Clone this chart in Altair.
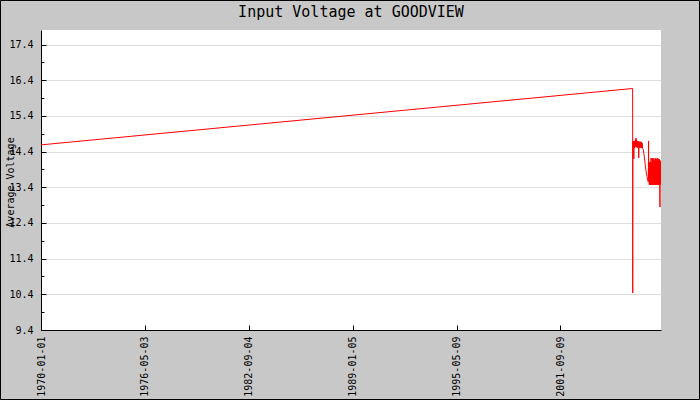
import altair as alt
import pandas as pd

# time in millions of seconds since 1970-01-01 (Unix epoch), average voltage
t_msec = [
    0.0, 1138.9, 1139.1, 1139.3,
    1139.6, 1140.2, 1140.8, 1141.2, 1141.6, 1142.2, 1142.8, 1143.4, 1144.0, 1144.6,
    1145.2, 1145.8, 1146.4, 1147.0, 1147.6, 1148.2, 1148.8, 1149.4, 1150.0, 1150.6,
    1151.2, 1151.8, 1152.4, 1153.0, 1153.6, 1154.2, 1154.8, 1155.4, 1156.0, 1156.6,
    1157.2, 1157.8,
    1159.5, 1161.5, 1163.0, 1164.8, 1166.5, 1168.0, 1169.0,
    1169.6, 1170.0,
    1170.5, 1171.0, 1171.5, 1172.0, 1172.5, 1173.0, 1173.5, 1174.0, 1174.5, 1175.0,
    1175.5, 1176.0, 1176.5, 1177.0, 1177.5, 1178.0, 1178.5, 1179.0, 1179.5, 1180.0,
    1180.5, 1181.0, 1181.5, 1182.0, 1182.5, 1183.0, 1183.5, 1184.0, 1184.5, 1185.0,
    1185.5, 1186.0, 1186.5, 1187.0, 1187.5, 1188.0, 1188.5, 1189.0, 1189.5, 1190.0,
    1190.5, 1191.0, 1191.5, 1192.0, 1192.5, 1193.0, 1193.5,
]
volts = [
    14.59, 16.17, 10.44, 14.60,
    14.68, 14.52, 14.70, 14.20, 14.66, 14.50, 14.69, 14.53, 14.72, 14.55,
    14.78, 14.52, 14.74, 14.55, 14.70, 14.52, 14.68, 14.50, 14.69, 14.22,
    14.66, 14.52, 14.68, 14.50, 14.67, 14.53, 14.68, 14.50, 14.66, 14.52,
    14.64, 14.50,
    14.45, 14.25, 14.05, 13.85, 13.70, 13.60, 13.55,
    14.70, 13.60,
    14.05, 13.48, 14.10, 13.47, 13.95, 13.48, 14.12, 13.47, 14.22, 13.48,
    14.08, 13.47, 14.22, 13.48, 14.10, 13.47, 14.22, 13.48, 14.12, 13.47,
    14.18, 13.48, 14.10, 13.47, 14.22, 13.48, 14.15, 13.47, 14.20, 13.48,
    14.08, 13.47, 14.22, 13.48, 14.12, 13.47, 14.20, 13.48, 14.10, 13.47,
    14.18, 13.48, 12.85, 14.15, 13.48, 14.10, 13.50,
]

x_tick_values = [0, 200000000, 400000000, 600000000, 800000000, 1000000000]
y_tick_values = [9.4, 10.4, 11.4, 12.4, 13.4, 14.4, 15.4, 16.4, 17.4]
y_minor_values = [9.9, 10.9, 11.9, 12.9, 13.9, 14.9, 15.9, 16.9]

df = pd.DataFrame({"t": [v * 1e6 for v in t_msec], "v": volts})

FONT = "DejaVu Sans Mono"
xscale = alt.Scale(domain=[0, 1193500000], nice=False, zero=False)
yscale = alt.Scale(domain=[9.4, 17.81], nice=False, zero=False)

base = alt.Chart(df)

line = base.mark_line(color="#ff0000", strokeWidth=1, clip=True).encode(
    x=alt.X("t:Q", scale=xscale, axis=alt.Axis(
        values=x_tick_values, labelExpr="utcFormat(datum.value * 1000, '%Y-%m-%d')",
        labelAngle=-90, labelFont=FONT, labelFontSize=10, labelColor="black",
        labelPadding=6, ticks=False, grid=False, domainColor="black",
        domainWidth=1, title=None, orient="bottom", labelOverlap=False)),
    y=alt.Y("v:Q", scale=yscale, axis=alt.Axis(
        values=y_tick_values, format=".1f", labelFont=FONT, labelFontSize=10,
        labelColor="black", labelPadding=8, ticks=False, grid=True,
        gridColor="#dddddd", gridWidth=1, domainColor="black", domainWidth=1,
        title="Average Voltage", titleFont=FONT, titleFontSize=10,
        titleFontWeight="normal", titleColor="black", titleX=-28, titleY=152,
        titleBaseline="alphabetic", titleAngle=-90, orient="left",
        labelOverlap=False)),
)

major_ticks = base.mark_line(opacity=0).encode(
    x=alt.X("t:Q", scale=xscale, axis=alt.Axis(
        values=x_tick_values, labels=False, domain=False, grid=False,
        ticks=True, tickSize=5, tickColor="black", offset=-5, title=None,
        orient="bottom")),
    y=alt.Y("v:Q", scale=yscale, axis=alt.Axis(
        values=y_tick_values, labels=False, domain=False, grid=False,
        ticks=True, tickSize=5, tickColor="black", offset=-5, title=None,
        orient="left")),
)

minor_ticks = base.mark_line(opacity=0).encode(
    x=alt.X("t:Q", scale=xscale, axis=None),
    y=alt.Y("v:Q", scale=yscale, axis=alt.Axis(
        values=y_minor_values, labels=False, domain=False, grid=False,
        ticks=True, tickSize=3, tickColor="black", offset=-3, title=None,
        orient="left")),
)

frame = alt.Chart(pd.DataFrame({"a": [0]})).mark_rect(
    fillOpacity=0, stroke="black", strokeWidth=1, clip=False
).encode(
    x=alt.value(-40.5), x2=alt.value(658.5), y=alt.value(-29.5), y2=alt.value(369.5)
)

chart = alt.layer(line, major_ticks, minor_ticks, frame).resolve_axis(
    x="independent", y="independent"
).properties(
    width=620, height=300,
    title=alt.TitleParams("Input Voltage at GOODVIEW", font=FONT, fontSize=15,
                          fontWeight="normal", color="black", offset=-35,
                          baseline="bottom", anchor="middle"),
    autosize=alt.AutoSizeParams(type="none"),
    padding={"left": 41, "top": 30, "right": 39, "bottom": 70},
    background="#c8c8c8",
).configure_view(stroke=None, fill="white")

chart.save("out.html", embed_options={"renderer": "svg", "actions": False})
